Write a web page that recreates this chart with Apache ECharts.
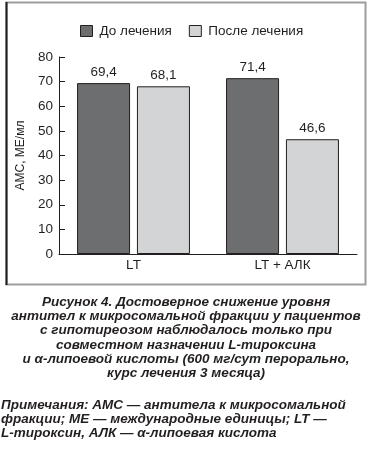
<!DOCTYPE html>
<html><head><meta charset="utf-8">
<script src="https://cdn.jsdelivr.net/npm/echarts@6/dist/echarts.min.js"></script>
<style>html,body{margin:0;padding:0;background:#fff}#c{width:370px;height:450px}</style>
</head><body><div id="c"></div>
<script>
const categories = ['LT', 'LT + АЛК'];
const seriesNames = ['До лечения', 'После лечения'];
const beforeValues = [69.4, 71.4];
const afterValues = [68.1, 46.6];
const yTicks = { min: 0, max: 80, interval: 10 };
const yAxisName = 'АМС, МЕ/мл';
const captionLines = [
  'Рисунок 4. Достоверное снижение уровня',
  'антител к микросомальной фракции у пациентов',
  'с гипотиреозом наблюдалось только при',
  'совместном назначении L-тироксина',
  'и α-липоевой кислоты (600 мг/сут перорально,',
  'курс лечения 3 месяца)'
];
const noteLines = [
  'Примечания: АМС — антитела к микросомальной',
  'фракции; МЕ — международные единицы; LT —',
  'L-тироксин, АЛК — α-липоевая кислота'
];

const ink = '#231f20';
const font = '"Liberation Sans", Arial, sans-serif';
const chart = echarts.init(document.getElementById('c'), null, {renderer: 'canvas'});
const fmt = p => String(p.value).replace('.', ',');
const barStyle = (color) => ({
  type: 'bar', barWidth: 53, barGap: '13%',
  itemStyle: { color: color, borderColor: ink, borderWidth: 1 },
  label: { show: true, position: 'top', distance: 4, formatter: fmt, color: ink, fontSize: 13.5, fontFamily: font },
  animation: false
});
const capFont = 'italic bold 13.5px ' + font;
const graphics = [
  { type: 'rect', shape: { x: 6.5, y: 2.5, width: 359, height: 282 }, style: { fill: 'none', stroke: '#9d9d9d', lineWidth: 2 }, silent: true },
  { type: 'line', shape: { x1: 6.5, y1: 2, x2: 6.5, y2: 285 }, style: { stroke: '#1e1e1e', lineWidth: 2 }, silent: true }
];
captionLines.forEach((t, i) => graphics.push({
  type: 'text', x: 186, y: 302 + i * 14.3,
  style: { text: t, font: capFont, fill: ink, align: 'center', verticalAlign: 'middle' }, silent: true
}));
noteLines.forEach((t, i) => graphics.push({
  type: 'text', x: 1, y: 405 + i * 14,
  style: { text: t, font: capFont, fill: ink, align: 'left', verticalAlign: 'middle' }, silent: true
}));
chart.setOption({
  animation: false,
  textStyle: { fontFamily: font, color: ink },
  legend: {
    left: 75, top: 19, itemWidth: 12, itemHeight: 11, itemGap: 17,
    icon: 'rect',
    textStyle: { fontSize: 13.5, color: ink, fontFamily: font, padding: [0, 0, 0, 2] },
    data: seriesNames.map(n => ({ name: n, itemStyle: { borderColor: ink, borderWidth: 1 } }))
  },
  grid: { left: 59, right: 13, top: 57, bottom: 196 },
  xAxis: {
    type: 'category', data: categories,
    axisLine: { lineStyle: { color: ink, width: 1 } },
    axisTick: { inside: true, length: 5, lineStyle: { color: ink } },
    axisLabel: { color: ink, fontSize: 13.5, fontFamily: font, margin: 4 }
  },
  yAxis: {
    type: 'value', min: yTicks.min, max: yTicks.max, interval: yTicks.interval,
    name: yAxisName, nameLocation: 'middle', nameGap: 20, nameRotate: 90,
    nameTextStyle: { color: ink, fontSize: 12, fontFamily: font },
    axisLine: { show: true, lineStyle: { color: ink, width: 1 } },
    axisTick: { show: true, inside: true, length: 6, lineStyle: { color: ink } },
    axisLabel: { color: ink, fontSize: 13.5, fontFamily: font, margin: 6 },
    splitLine: { show: false }
  },
  series: [
    Object.assign({ name: seriesNames[0], data: beforeValues }, barStyle('#6d6e70')),
    Object.assign({ name: seriesNames[1], data: afterValues }, barStyle('#d3d4d5'))
  ],
  graphic: graphics
});
</script></body></html>
